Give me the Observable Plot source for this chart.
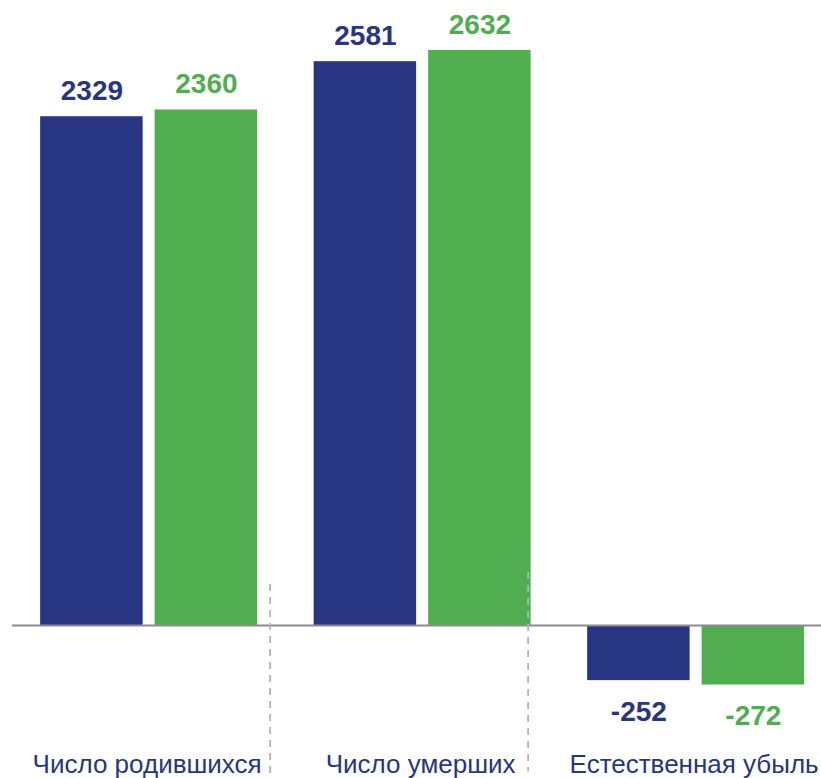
<!DOCTYPE html>
<html>
<head>
<meta charset="utf-8">
<script src="https://cdn.jsdelivr.net/npm/d3@7"></script>
<script src="https://cdn.jsdelivr.net/npm/@observablehq/plot@0.6"></script>
<style>
  html, body { margin: 0; padding: 0; background: #fff; }
  #chart { width: 821px; height: 778px; overflow: hidden; }
</style>
</head>
<body>
<div id="chart"></div>
<script>
// Data
const categories = ["Число родившихся", "Число умерших", "Естественная убыль"];
const seriesNames = ["Ряд 1", "Ряд 2"];
const series1 = [2329, 2581, -252];
const series2 = [2360, 2632, -272];
// Separator tops (in value units), after first and second category
const separatorAfter = ["Число родившихся", "Число умерших"];
const separatorTop = [188, 243];

const BLUE = "#283582";
const GREEN = "#50AE50";
const colors = [BLUE, GREEN];

const rows = [];
categories.forEach((c, i) => {
  rows.push({category: c, series: seriesNames[0], idx: 0, value: series1[i]});
  rows.push({category: c, series: seriesNames[1], idx: 1, value: series2[i]});
});
const seps = separatorAfter.map((c, i) => ({category: c, top: separatorTop[i]}));

const BW = 217;       // band width in px
const BAR = 102.5;    // bar width in px

const yMin = -700, yMax = 2861;

const valueLabel = (filterFn, dy) => [0, 1].map(k =>
  Plot.text(rows.filter(d => d.idx === k && filterFn(d.value)), {
    x: "category", y: "value", text: d => String(d.value),
    dx: k === 0 ? -57.25 : 57.25, dy,
    lineAnchor: "bottom", textAnchor: "middle",
    fill: colors[k], fontSize: 28, fontWeight: "bold"
  })
);

const chart = Plot.plot({
  width: 821,
  height: 778,
  marginLeft: 12,
  marginRight: 0,
  marginTop: 0,
  marginBottom: 0,
  style: {fontFamily: "'Liberation Sans', Arial, sans-serif", background: "#fff", overflow: "hidden"},
  x: {type: "band", domain: categories, paddingInner: 0.2066, paddingOuter: 0.0823, align: 0.625, round: false, axis: null},
  y: {domain: [yMin, yMax], axis: null},
  marks: [
    Plot.barY(rows.filter(d => d.idx === 0), {x: "category", y: "value", fill: BLUE, insetRight: BW - BAR}),
    Plot.barY(rows.filter(d => d.idx === 1), {x: "category", y: "value", fill: GREEN, insetLeft: BW - BAR}),
    Plot.ruleY([0], {stroke: "#8c8c8c", strokeWidth: 2}),
    Plot.ruleX(seps.filter(d => d.category === separatorAfter[0]), {x: "category", y1: "top", y2: yMin + 20, dx: 121, stroke: "#b4b4b4", strokeWidth: 1.8, strokeDasharray: "7,6"}),
    Plot.ruleX(seps.filter(d => d.category === separatorAfter[1]), {x: "category", y1: "top", y2: yMin + 30, dx: 105.5, stroke: "#b4b4b4", strokeWidth: 1.8, strokeDasharray: "7,6"}),
    ...valueLabel(v => v >= 0, -17),
    ...valueLabel(v => v < 0, 40),
    Plot.text(categories, {
      x: d => d, text: d => d, frameAnchor: "bottom", lineAnchor: "bottom",
      dx: -2, dy: -6, fontSize: 26, fill: BLUE, textAnchor: "middle"
    })
  ]
});
document.getElementById("chart").appendChild(chart);
</script>
</body>
</html>
